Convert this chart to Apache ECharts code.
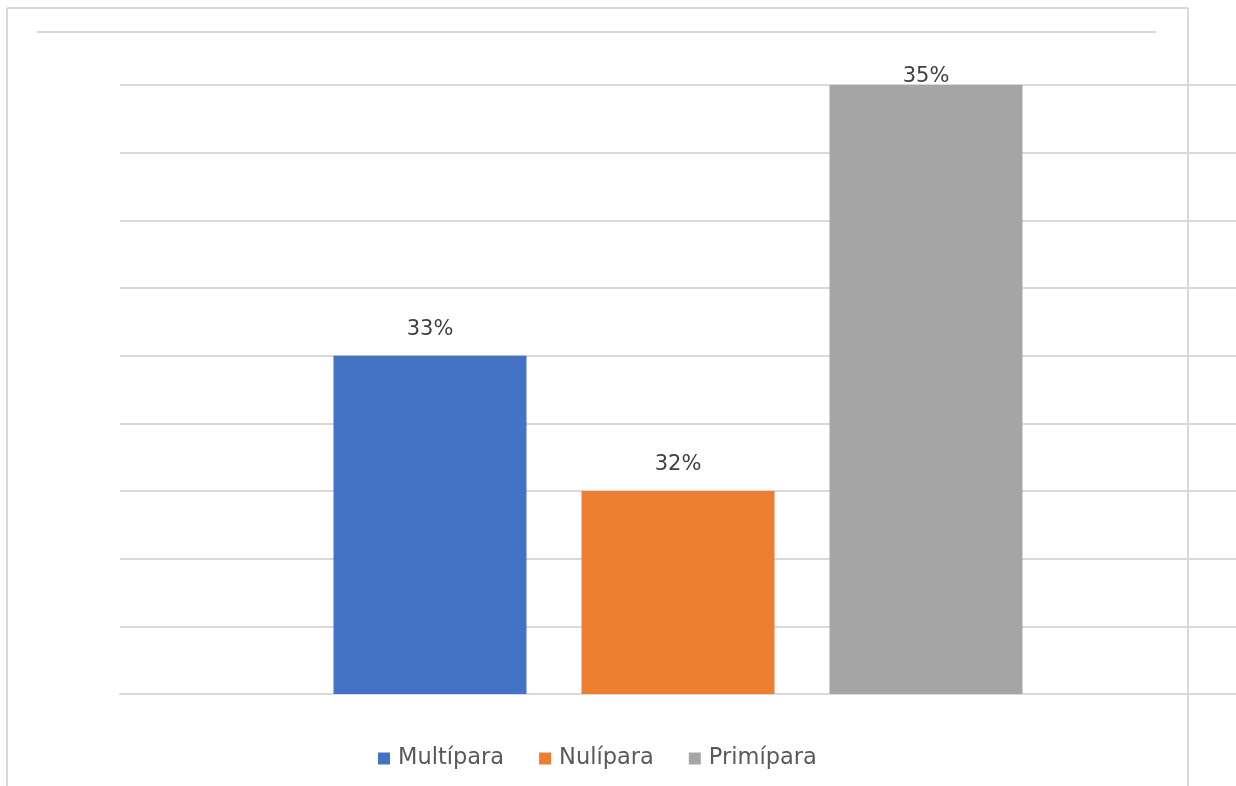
<!DOCTYPE html>
<html>
<head>
<meta charset="utf-8">
<script src="https://cdn.jsdelivr.net/npm/echarts@6/dist/echarts.min.js"></script>
<style>
html,body{margin:0;padding:0;background:#fff;}
#c{width:1236px;height:786px;}
</style>
</head>
<body>
<div id="c"></div>
<script>
const categories = [''];
const seriesNames = ['Multípara', 'Nulípara', 'Primípara'];
const seriesValues = [[33], [32], [35]];
const seriesColors = ['#4472C4', '#ED7D31', '#A5A5A5'];

const chart = echarts.init(document.getElementById('c'));
const gridColor = '#d9d9d9';
const series = seriesNames.map((name, i) => ({
  name: name,
  type: 'bar',
  data: seriesValues[i],
  barWidth: 193,
  barGap: '28.5%',
  itemStyle: { color: seriesColors[i] },
  label: {
    show: true,
    position: 'top',
    distance: i === 2 ? -2 : 16,
    formatter: '{c}%',
    fontFamily: 'DejaVu Sans, sans-serif',
    fontSize: 21,
    color: '#404040'
  }
}));

chart.setOption({
  animation: false,
  backgroundColor: '#ffffff',
  grid: { left: 120, right: 0, top: 85, bottom: 92, containLabel: false },
  xAxis: {
    type: 'category',
    data: categories,
    axisLine: { show: true, lineStyle: { color: gridColor, width: 2 } },
    axisTick: { show: false },
    axisLabel: { show: false }
  },
  yAxis: {
    type: 'value',
    min: 30.5,
    max: 35,
    interval: 0.5,
    axisLine: { show: false },
    axisTick: { show: false },
    axisLabel: { show: false },
    splitLine: { lineStyle: { color: gridColor, width: 2 } }
  },
  legend: {
    top: 742,
    left: 373,
    itemWidth: 12,
    itemHeight: 12,
    itemGap: 35,
    icon: 'rect',
    textStyle: {
      fontFamily: 'DejaVu Sans, sans-serif',
      fontSize: 22.5,
      color: '#595959',
      padding: [0, 0, 0, 3]
    },
    data: seriesNames
  },
  graphic: [
    {
      type: 'line', silent: true, z: -1,
      shape: { x1: 7, y1: 8, x2: 1188, y2: 8 },
      style: { stroke: gridColor, lineWidth: 2 }
    },
    {
      type: 'line', silent: true, z: -1,
      shape: { x1: 7, y1: 8, x2: 7, y2: 786 },
      style: { stroke: gridColor, lineWidth: 2 }
    },
    {
      type: 'line', silent: true, z: -1,
      shape: { x1: 1188, y1: 8, x2: 1188, y2: 786 },
      style: { stroke: gridColor, lineWidth: 2 }
    },
    {
      type: 'line', silent: true, z: -1,
      shape: { x1: 37, y1: 32, x2: 1156, y2: 32 },
      style: { stroke: gridColor, lineWidth: 2 }
    }
  ],
  series: series
});
</script>
</body>
</html>
